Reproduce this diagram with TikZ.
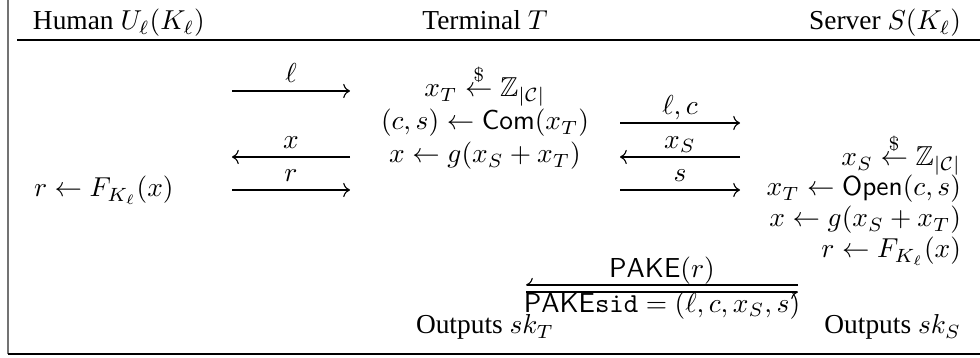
\documentclass[tikz,border=0pt]{standalone}
\usepackage{amsmath,amssymb}
\usepackage{fontspec}
\setmainfont{Liberation Serif}
\usetikzlibrary{arrows.meta}
\begin{document}
\begin{tikzpicture}[x=0.365pt,y=-0.365pt,
  txt/.style={inner sep=0pt, outer sep=0pt},
  arr/.style={-{Computer Modern Rightarrow}, line width=0.4pt},
  harp/.style={-{Computer Modern Rightarrow[harpoon,swap]}, line width=0.4pt},
  lbl/.style={midway, anchor=base, yshift=3.2pt, inner sep=0pt},
  rule/.style={line width=0.7pt}]
\useasboundingbox (0,0) rectangle (980,358);
% frame
\draw[rule, draw=black!55] (8,0) -- (8,354);
\draw[rule] (17,40) -- (980,40);
\draw[rule] (8,354) -- (980,354);
% headers
\node[txt, anchor=base west] (hU) at (33,30) {Human $U_\ell(K_\ell)$};
\node[txt, anchor=base] (hT) at (485,30) {Terminal $T$};
\node[txt, anchor=base east] (hS) at (961,30) {Server $S(K_\ell)$};
% human
\node[txt, anchor=base west] (u1) at (34,197) {$r \leftarrow F_{K_\ell}(x)$};
% terminal
\node[txt, anchor=base] (t1) at (485,97) {$x_T \stackrel{\$}{\leftarrow} \mathbb{Z}_{|\mathcal{C}|}$};
\node[txt, anchor=base] (t2) at (485,130) {$(c,s) \leftarrow \mathsf{Com}(x_T)$};
\node[txt, anchor=base] (t3) at (485,163) {$x \leftarrow g(x_S + x_T)$};
\node[txt, anchor=base] (t4) at (485,334) {Outputs $sk_T$};
% server
\node[txt, anchor=base east] (s1) at (961,166) {$x_S \stackrel{\$}{\leftarrow} \mathbb{Z}_{|\mathcal{C}|}$};
\node[txt, anchor=base east] (s2) at (961,196) {$x_T \leftarrow \mathsf{Open}(c,s)$};
\node[txt, anchor=base east] (s3) at (961,227) {$x \leftarrow g(x_S + x_T)$};
\node[txt, anchor=base east] (s4) at (961,258) {$r \leftarrow F_{K_\ell}(x)$};
\node[txt, anchor=base east] (s5) at (961,334) {Outputs $sk_S$};
% arrow end points
\coordinate (a1l) at (232,91);  \coordinate (a1r) at (350,91);
\coordinate (a2l) at (232,157); \coordinate (a2r) at (350,157);
\coordinate (a3l) at (232,190); \coordinate (a3r) at (350,190);
\coordinate (b1l) at (620,123); \coordinate (b1r) at (740,123);
\coordinate (b2l) at (620,157); \coordinate (b2r) at (740,157);
\coordinate (b3l) at (620,190); \coordinate (b3r) at (740,190);
\coordinate (p1l) at (526,285); \coordinate (p1r) at (798,285);
\coordinate (p2l) at (526,292); \coordinate (p2r) at (798,292);
% human <-> terminal
\draw[arr] (a1l) -- (a1r) node[lbl] (la1) {$\ell$};
\draw[arr] (a2r) -- (a2l) node[lbl] (la2) {$x$};
\draw[arr] (a3l) -- (a3r) node[lbl] (la3) {$r$};
% terminal <-> server
\draw[arr] (b1l) -- (b1r) node[lbl] (lb1) {$\ell, c$};
\draw[arr] (b2r) -- (b2l) node[lbl] (lb2) {$x_S$};
\draw[arr] (b3l) -- (b3r) node[lbl] (lb3) {$s$};
% PAKE harpoons
\draw[harp] (p1r) -- (p1l) node[midway, anchor=base, yshift=2.9pt, inner sep=0pt] (lp1) {$\mathsf{PAKE}(r)$};
\draw[harp] (p2l) -- (p2r) node[midway, anchor=base, yshift=-7.4pt, inner sep=0pt] (lp2) {$\mathsf{PAKE}\mathtt{sid} = (\ell, c, x_S, s)$};
\end{tikzpicture}
\end{document}
